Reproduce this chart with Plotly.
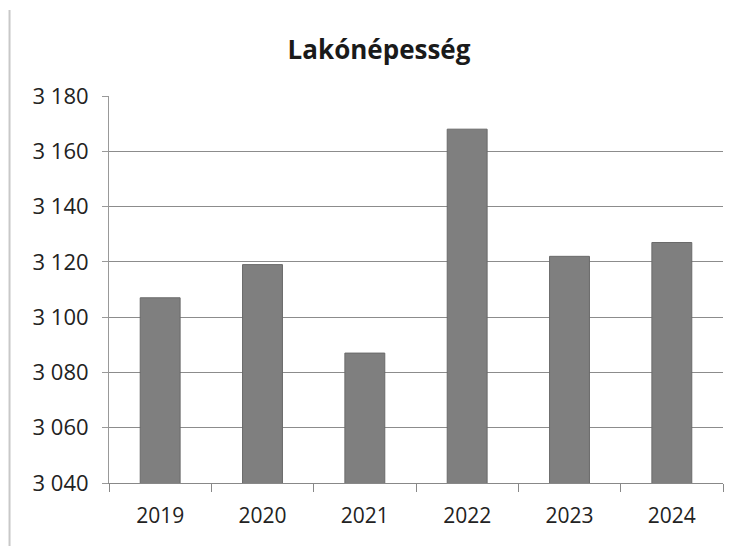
import plotly.graph_objects as go

years = ["2019", "2020", "2021", "2022", "2023", "2024"]
population = [3107, 3119, 3087, 3168, 3122, 3127]
y_ticks = [3040, 3060, 3080, 3100, 3120, 3140, 3160, 3180]
title_text = "Lakónépesség"

font_family = "Open Sans, Lato, Liberation Sans, sans-serif"

W, H = 737, 538

fig = go.Figure(
    go.Bar(
        x=years,
        y=population,
        width=0.39,
        marker=dict(color="#7f7f7f", line=dict(color="#6a6a6a", width=1)),
    )
)

fig.update_layout(
    width=W,
    height=H,
    paper_bgcolor="white",
    plot_bgcolor="white",
    separators=", ",
    margin=dict(l=101, r=22, t=88, b=63),
    showlegend=False,
    title=dict(
        text="<b>" + title_text + "</b>",
        font=dict(family=font_family, size=26, color="#1a1a1a"),
        x=371 / W,
        xref="container",
        xanchor="center",
        y=1 - 42 / H,
        yref="container",
        yanchor="middle",
    ),
    shapes=[
        dict(type="line", xref="paper", yref="paper", x0=-0.162, x1=-0.162, y0=-0.163, y1=1.222,
             line=dict(color="#c8c8c8", width=2)),
    ],
)

fig.update_xaxes(
    type="category",
    showline=True,
    linecolor="#888888",
    linewidth=1,
    ticks="outside",
    tickson="boundaries",
    ticklen=8,
    tickcolor="#888888",
    ticklabelstandoff=14,
    tickfont=dict(family=font_family, size=21, color="#222222"),
    showgrid=False,
)

fig.update_yaxes(
    range=[3040, 3180],
    tickvals=y_ticks,
    tickformat=",d",
    showline=True,
    linecolor="#999999",
    linewidth=1,
    ticks="outside",
    ticklen=6,
    tickcolor="#999999",
    ticklabelstandoff=9,
    tickfont=dict(family=font_family, size=22, color="#222222"),
    showgrid=True,
    gridcolor="#8c8c8c",
    gridwidth=1,
    zeroline=False,
)

fig.write_html("out.html")
